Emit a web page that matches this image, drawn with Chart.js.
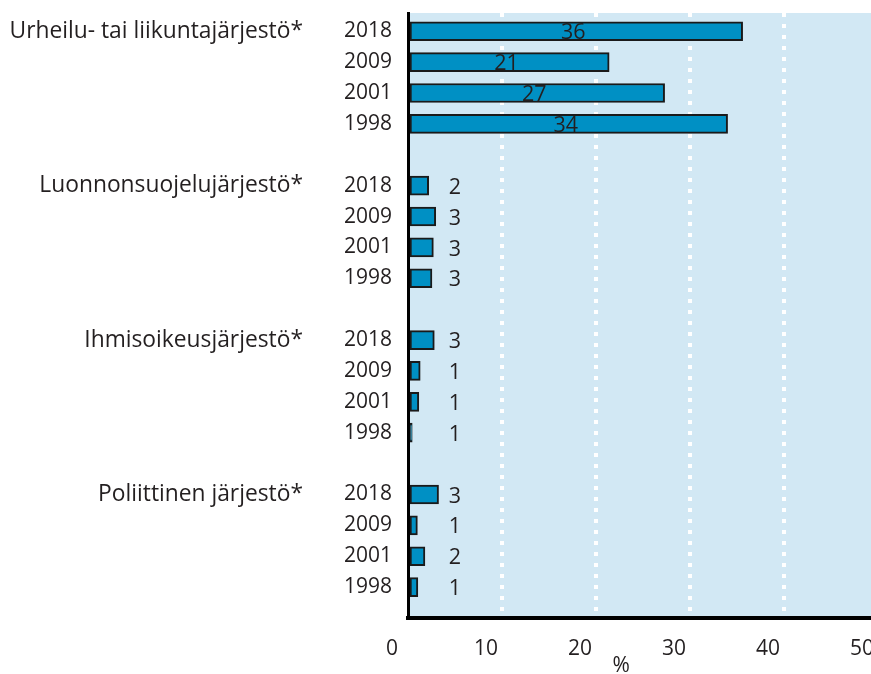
<!DOCTYPE html>
<html><head><meta charset="utf-8">
<script src="https://cdn.jsdelivr.net/npm/chart.js@4/dist/chart.umd.min.js"></script>
<style>
html,body{margin:0;padding:0;overflow:hidden;background:#fff;width:871px;height:674px}
#wrap{width:878px;height:674px;position:relative}
</style></head><body><div id="wrap"><canvas id="c"></canvas></div>
<script>
// ---- data ----
const groups = ['Urheilu- tai liikuntajärjestö*', 'Luonnonsuojelujärjestö*', 'Ihmisoikeusjärjestö*', 'Poliittinen järjestö*'];
const years = ['2018', '2009', '2001', '1998'];
// bar lengths as drawn (%)
const sports = [35.6, 21.4, 27.3, 34.0];
const nature = [2.2, 2.95, 2.7, 2.55];
const humanRights = [2.8, 1.3, 1.15, 0.45];
const political = [3.25, 1.0, 1.8, 1.05];
// printed value labels
const sportsLabels = [36, 21, 27, 34];
const natureLabels = [2, 3, 3, 3];
const humanRightsLabels = [3, 1, 1, 1];
const politicalLabels = [3, 1, 2, 1];
const xTicks = [0, 10, 20, 30, 40, 50];
const axisTitle = '%';

// ---- build rows (one blank row between groups) ----
const seriesVals = [sports, nature, humanRights, political];
const seriesLabels = [sportsLabels, natureLabels, humanRightsLabels, politicalLabels];
const points = [], printed = [], groupIdx = [], yearRows = {}, groupRows = {};
seriesVals.forEach((vals, g) => {
  vals.forEach((v, k) => {
    const row = g * 5 + k;
    points.push({x: v, y: row});
    printed.push(seriesLabels[g][k]);
    groupIdx.push(g);
    yearRows[row] = years[k];
    if (k === 0) groupRows[row] = groups[g];
  });
});

const FONT = "'Open Sans', sans-serif";
const TXT = '#231f20';

const bgPlugin = {
  id: 'bg',
  beforeDraw(chart) {
    const {ctx, chartArea: a} = chart;
    ctx.save();
    ctx.fillStyle = '#d2e8f4';
    ctx.fillRect(a.left, a.top, a.right - a.left, a.bottom - a.top);
    ctx.restore();
  }
};
const labelPlugin = {
  id: 'vals',
  afterDatasetsDraw(chart) {
    const {ctx} = chart;
    const meta = chart.getDatasetMeta(0);
    const xs = chart.scales.x;
    ctx.save();
    ctx.font = '21.5px ' + FONT;
    ctx.fillStyle = TXT;
    ctx.textAlign = 'center';
    ctx.textBaseline = 'middle';
    meta.data.forEach((bar, i) => {
      const x = groupIdx[i] === 0 ? (bar.base + bar.x) / 2 - 3 : xs.getPixelForValue(5);
      ctx.fillText(String(printed[i]), x, bar.y + 2);
    });
    ctx.restore();
  }
};

const noPad = s => { s.paddingTop = 0; s.paddingBottom = 0; };

new Chart(document.getElementById('c'), {
  type: 'bar',
  data: {
    datasets: [{
      data: points,
      backgroundColor: '#0090c4',
      borderColor: '#1a1a1a',
      borderWidth: 2,
      borderSkipped: false,
      barThickness: 19,
      yAxisID: 'y'
    }]
  },
  options: {
    indexAxis: 'y',
    responsive: true,
    maintainAspectRatio: false,
    animation: false,
    devicePixelRatio: 1,
    layout: {padding: {top: 13, left: 0, right: 0, bottom: 0}},
    plugins: {legend: {display: false}, tooltip: {enabled: false}},
    scales: {
      x: {
        type: 'linear', min: 0, max: 50,
        afterBuildTicks: s => { s.ticks = xTicks.map(v => ({value: v})); },
        afterFit: s => { s.height = 56; s.paddingLeft = 0; s.paddingRight = 0; },
        grid: {
          color: c => (c.tick && c.tick.value > 0 && c.tick.value < 50) ? '#ffffff' : 'rgba(0,0,0,0)',
          lineWidth: 4,
          drawTicks: false
        },
        border: {display: true, color: '#000', width: 4, dash: [4, 7]},
        ticks: {font: {family: FONT, size: 21}, color: TXT, padding: 18, labelOffset: -16, maxRotation: 0},
        title: {display: true, text: axisTitle + '\u00a0'.repeat(8), font: {family: FONT, size: 21, lineHeight: 1}, color: TXT, padding: {top: 0, bottom: -3}}
      },
      y: {
        type: 'linear', reverse: true, offset: false, min: -0.59, max: 19.0, position: 'left', weight: 0,
        afterBuildTicks: s => { s.ticks = Object.keys(yearRows).map(r => ({value: +r})); },
        afterFit: s => { s.width = 68; noPad(s); },
        grid: {display: false, drawTicks: false, offset: false},
        border: {display: true, color: '#000', width: 3},
        ticks: {font: {family: FONT, size: 21}, color: TXT, padding: 16, callback: v => yearRows[v] || '', autoSkip: false}
      },
      y2: {
        type: 'linear', reverse: true, offset: false, min: -0.59, max: 19.0, position: 'left', weight: 1,
        afterBuildTicks: s => { s.ticks = Object.keys(groupRows).map(r => ({value: +r})); },
        afterFit: s => { s.width = 340; noPad(s); },
        grid: {display: false, drawTicks: false, offset: false},
        border: {display: false},
        ticks: {font: {family: FONT, size: 22.8}, color: TXT, padding: 37, callback: v => groupRows[v] || '', autoSkip: false}
      }
    }
  },
  plugins: [bgPlugin, labelPlugin]
});
</script></body></html>
